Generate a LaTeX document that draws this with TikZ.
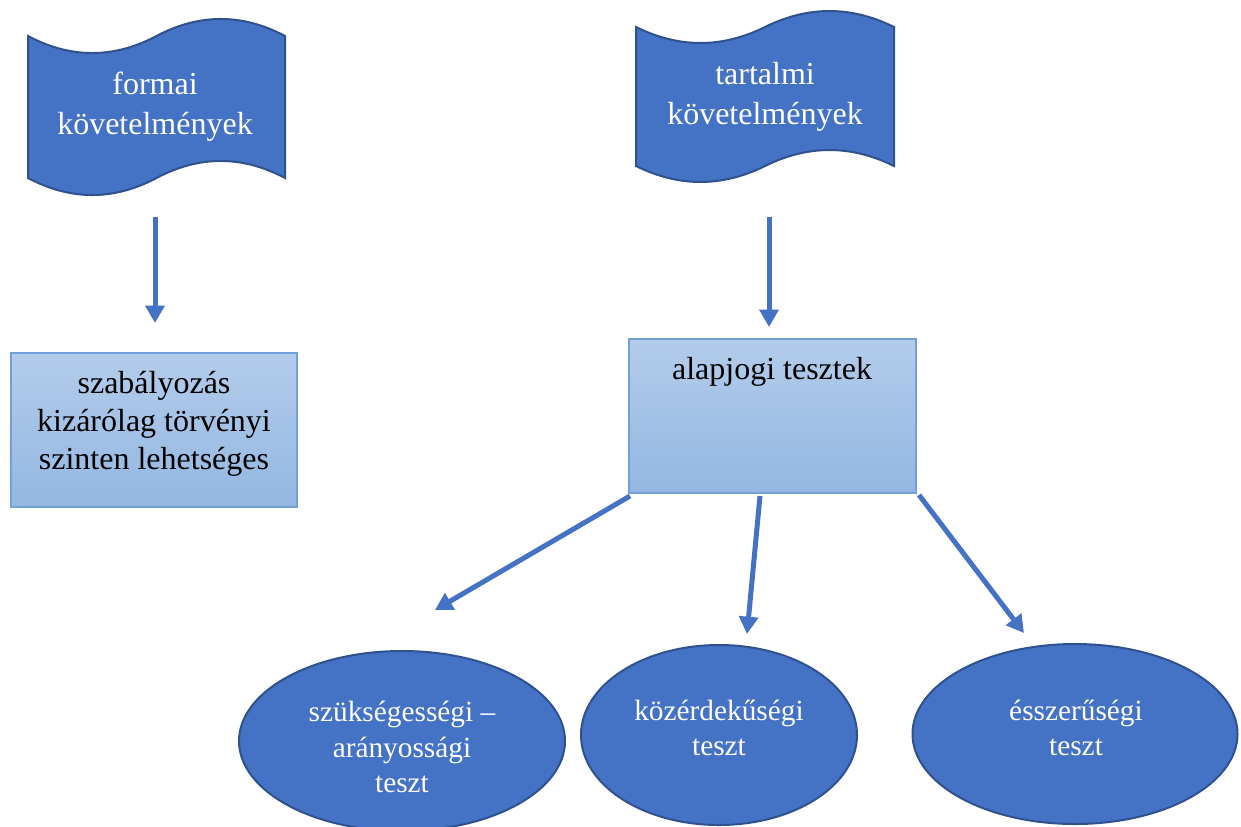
\documentclass[tikz,border=0pt]{standalone}
\usepackage{fontspec}
\setmainfont{Liberation Serif}
\usetikzlibrary{arrows.meta,shapes.geometric}
\definecolor{acc}{HTML}{4472C4}
\definecolor{accdark}{HTML}{2F528F}
\definecolor{boxtop}{HTML}{B3CCEA}
\definecolor{boxbot}{HTML}{93B7E2}
\definecolor{boxline}{HTML}{72A1DA}
\tikzset{
  tapeshape/.style={fill=acc, draw=accdark, line width=1.5pt},
  tapetext/.style={text=white, align=center, font=\fontsize{24pt}{30pt}\selectfont, inner sep=0pt},
  lightbox/.style={rectangle, draw=boxline, line width=1pt, top color=boxtop, bottom color=boxbot, inner sep=0pt},
  boxtext/.style={text=black, align=center, font=\fontsize{24pt}{28.5pt}\selectfont, inner sep=0pt},
  ell/.style={ellipse, fill=acc, draw=accdark, line width=1.5pt, inner sep=0pt},
  elltext/.style={text=white, align=center, font=\fontsize{22pt}{26.5pt}\selectfont, inner sep=0pt},
  conn/.style={draw=acc, line width=3.75pt, -{Triangle[length=13pt,width=14pt]}}
}
\begin{document}
\begin{tikzpicture}[x=0.75pt,y=-0.75pt]
\useasboundingbox (0,0) rectangle (1241,826);
\clip (0,0) rectangle (1241,826);
\fill[white] (0,0) rectangle (1241,826);
% tapes
\path[tapeshape] (28,36) .. controls (70.8,58.7) and (113.7,58.7) .. (156.5,36)
  .. controls (199.3,13.3) and (242.2,13.3) .. (285,36) -- (285,178)
  .. controls (242.2,155.3) and (199.3,155.3) .. (156.5,178)
  .. controls (113.7,200.7) and (70.8,200.7) .. (28,178) -- cycle;
\node[tapetext] (tapeL) at (155,107) {formai\\követelmények};
\path[tapeshape] (636,27) .. controls (679,48.3) and (722,48.3) .. (765,27)
  .. controls (808,5.7) and (851,5.7) .. (894,27) -- (894,166)
  .. controls (851,144.7) and (808,144.7) .. (765,166)
  .. controls (722,187.3) and (679,187.3) .. (636,166) -- cycle;
\node[tapetext] (tapeR) at (765,97) {tartalmi\\követelmények};
% boxes
\node[lightbox, minimum width=214.5pt, minimum height=115.5pt] (boxL) at (154,430) {};
\node[boxtext] (boxLt) at (154,424) {szabályozás\\kizárólag törvényi\\szinten lehetséges};
\node[lightbox, minimum width=215.25pt, minimum height=115.5pt] (boxR) at (772.5,416) {};
\node[boxtext] (boxRt) at (772,372) {alapjogi tesztek};
% ellipses
\node[ell, minimum width=244.5pt, minimum height=135pt] (e1) at (402,741) {};
\node[elltext] (e1t) at (402,747) {szükségességi –\\arányossági\\teszt};
\node[ell, minimum width=207pt, minimum height=135pt] (e2) at (719,735) {};
\node[elltext] (e2t) at (719,728) {közérdekűségi\\teszt};
\node[ell, minimum width=243.75pt, minimum height=135pt] (e3) at (1075,734) {};
\node[elltext] (e3t) at (1076,728) {ésszerűségi\\teszt};
% connector endpoints
\coordinate (a1s) at (155,217); \coordinate (a1e) at (155,323);
\coordinate (a2s) at (769,217); \coordinate (a2e) at (769,327);
\coordinate (d1s) at (630,496); \coordinate (d1e) at (435,610);
\coordinate (d2s) at (760,496); \coordinate (d2e) at (747,634);
\coordinate (d3s) at (919,495); \coordinate (d3e) at (1024,633);
\draw[conn] (a1s) -- (a1e);
\draw[conn] (a2s) -- (a2e);
\draw[conn] (d1s) -- (d1e);
\draw[conn] (d2s) -- (d2e);
\draw[conn] (d3s) -- (d3e);
\end{tikzpicture}
\end{document}
